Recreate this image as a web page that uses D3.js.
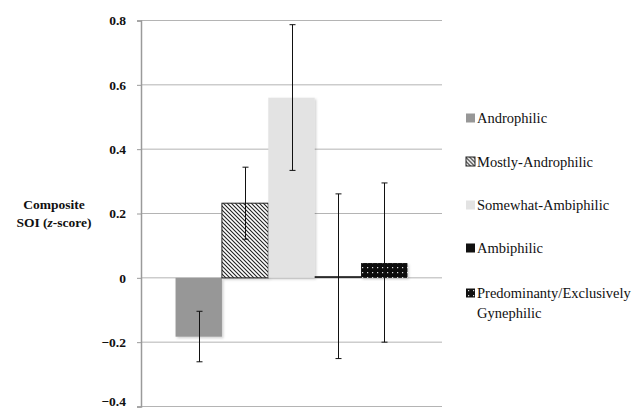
<!DOCTYPE html>
<html>
<head>
<meta charset="utf-8">
<script src="https://cdn.jsdelivr.net/npm/d3@7"></script>
<style>
  body { margin: 0; background: #fff; }
  svg { display: block; }
</style>
</head>
<body>
<svg id="chart" width="641" height="412"></svg>
<script>
// data
const groups = ["Androphilic", "Mostly-Androphilic", "Somewhat-Ambiphilic", "Ambiphilic", "Predominanty/Exclusively Gynephilic"];
const means = [-0.183, 0.232, 0.560, 0.005, 0.046];
const errLow = [-0.261, 0.120, 0.334, -0.251, -0.200];
const errHigh = [-0.104, 0.344, 0.787, 0.261, 0.295];
const yTicks = [-0.4, -0.2, 0, 0.2, 0.4, 0.6, 0.8];

const serif = "'Liberation Serif', 'Times New Roman', Times, 'DejaVu Serif', serif";

const svg = d3.select("#chart");
const defs = svg.append("defs");

// diagonal hatch
const hatch = defs.append("pattern").attr("id", "hatch")
  .attr("patternUnits", "userSpaceOnUse").attr("width", 4).attr("height", 4);
hatch.append("rect").attr("width", 4).attr("height", 4).attr("fill", "#fff");
hatch.append("path").attr("d", "M-1,-1L5,5M-1,3L1,5M3,-1L5,1")
  .attr("stroke", "#222").attr("stroke-width", 1.1);

// black with white dots
const dots = defs.append("pattern").attr("id", "dots")
  .attr("patternUnits", "userSpaceOnUse").attr("width", 5).attr("height", 5);
dots.append("rect").attr("width", 5).attr("height", 5).attr("fill", "#111");
dots.append("rect").attr("x", 2).attr("y", 2).attr("width", 1.2).attr("height", 1.2).attr("fill", "#ddd");

const shadow = defs.append("filter").attr("id", "shadow")
  .attr("x", "-20%").attr("y", "-20%").attr("width", "140%").attr("height", "140%");
shadow.append("feDropShadow").attr("dx", 1.5).attr("dy", 1.5).attr("stdDeviation", 1)
  .attr("flood-color", "#000").attr("flood-opacity", 0.18);

const fills = ["#979797", "url(#hatch)", "#e3e3e3", "#111", "url(#dots)"];
const strokes = ["none", "#222", "none", "none", "none"];

const plotL = 141, plotR = 442, plotT = 20.5, plotB = 406.5;

const y = d3.scaleLinear().domain([-0.4, 0.8]).range([plotB, plotT]);
const outer = d3.scaleBand().domain(["all"]).range([plotL, plotR]).paddingInner(0).paddingOuter(0.149);
const x = d3.scaleBand().domain(groups).range([outer("all"), outer("all") + outer.bandwidth()]);

// gridlines
svg.append("g").selectAll("line").data(yTicks).join("line")
  .attr("x1", plotL).attr("x2", plotR)
  .attr("y1", d => y(d)).attr("y2", d => y(d))
  .attr("stroke", "#b4b4b4").attr("stroke-width", 1);

// y axis
const yAxis = svg.append("g").attr("transform", `translate(${plotL},0)`)
  .call(d3.axisLeft(y).tickValues(yTicks).tickSize(4).tickPadding(11)
    .tickFormat(d => d === 0 ? "0" : d3.format(".1f")(d)));
yAxis.attr("font-family", null);
yAxis.select(".domain").attr("stroke", "#9a9a9a").attr("stroke-width", 1.5);
yAxis.selectAll(".tick line").attr("stroke", "#9a9a9a");
yAxis.selectAll(".tick text")
  .style("font-family", serif).style("font-weight", "bold")
  .style("font-size", "13.5px").attr("fill", "#111");
// bottom label sits a little higher so it stays inside the picture
yAxis.selectAll(".tick text").filter(d => d === -0.4).attr("dy", "-0.05em");

// bars
svg.append("g").selectAll("rect").data(groups).join("rect")
  .attr("x", d => x(d))
  .attr("width", x.bandwidth())
  .attr("y", (d, i) => y(Math.max(0, means[i])))
  .attr("height", (d, i) => Math.abs(y(means[i]) - y(0)))
  .attr("fill", (d, i) => fills[i])
  .attr("stroke", (d, i) => strokes[i])
  .attr("stroke-width", 1)
  .attr("filter", "url(#shadow)");

// error bars
const eb = svg.append("g").attr("stroke", "#111").attr("stroke-width", 1);
groups.forEach((g, i) => {
  const cx = Math.round(x(g) + x.bandwidth() / 2) + 0.5;
  eb.append("line").attr("x1", cx).attr("x2", cx).attr("y1", y(errLow[i])).attr("y2", y(errHigh[i]));
  eb.append("line").attr("x1", cx - 3).attr("x2", cx + 3).attr("y1", y(errLow[i])).attr("y2", y(errLow[i]));
  eb.append("line").attr("x1", cx - 3).attr("x2", cx + 3).attr("y1", y(errHigh[i])).attr("y2", y(errHigh[i]));
});

// y axis title
const title = svg.append("text")
  .style("font-family", serif).style("font-weight", "bold")
  .style("font-size", "13.5px").attr("fill", "#111").attr("text-anchor", "middle");
title.append("tspan").attr("x", 54).attr("y", 209).text("Composite");
const t2 = title.append("tspan").attr("x", 54).attr("y", 227);
t2.append("tspan").text("SOI (");
t2.append("tspan").style("font-style", "italic").text("z");
t2.append("tspan").text("-score)");

// legend
const legendY = [118, 161.5, 205, 248, 293];
const legend = svg.append("g");
groups.forEach((g, i) => {
  const row = legend.append("g").attr("transform", `translate(466,${legendY[i]})`);
  row.append("rect").attr("x", 0).attr("y", -4.5).attr("width", 9).attr("height", 9)
    .attr("fill", fills[i]).attr("stroke", strokes[i]);
  const txt = row.append("text").attr("x", 11).attr("y", 5)
    .style("font-family", serif).style("font-size", "14.5px").attr("fill", "#111");
  const parts = g.split(" ");
  parts.forEach((p, j) => {
    txt.append("tspan").attr("x", 11).attr("dy", j === 0 ? 0 : 20).text(p);
  });
});
</script>
</body>
</html>
